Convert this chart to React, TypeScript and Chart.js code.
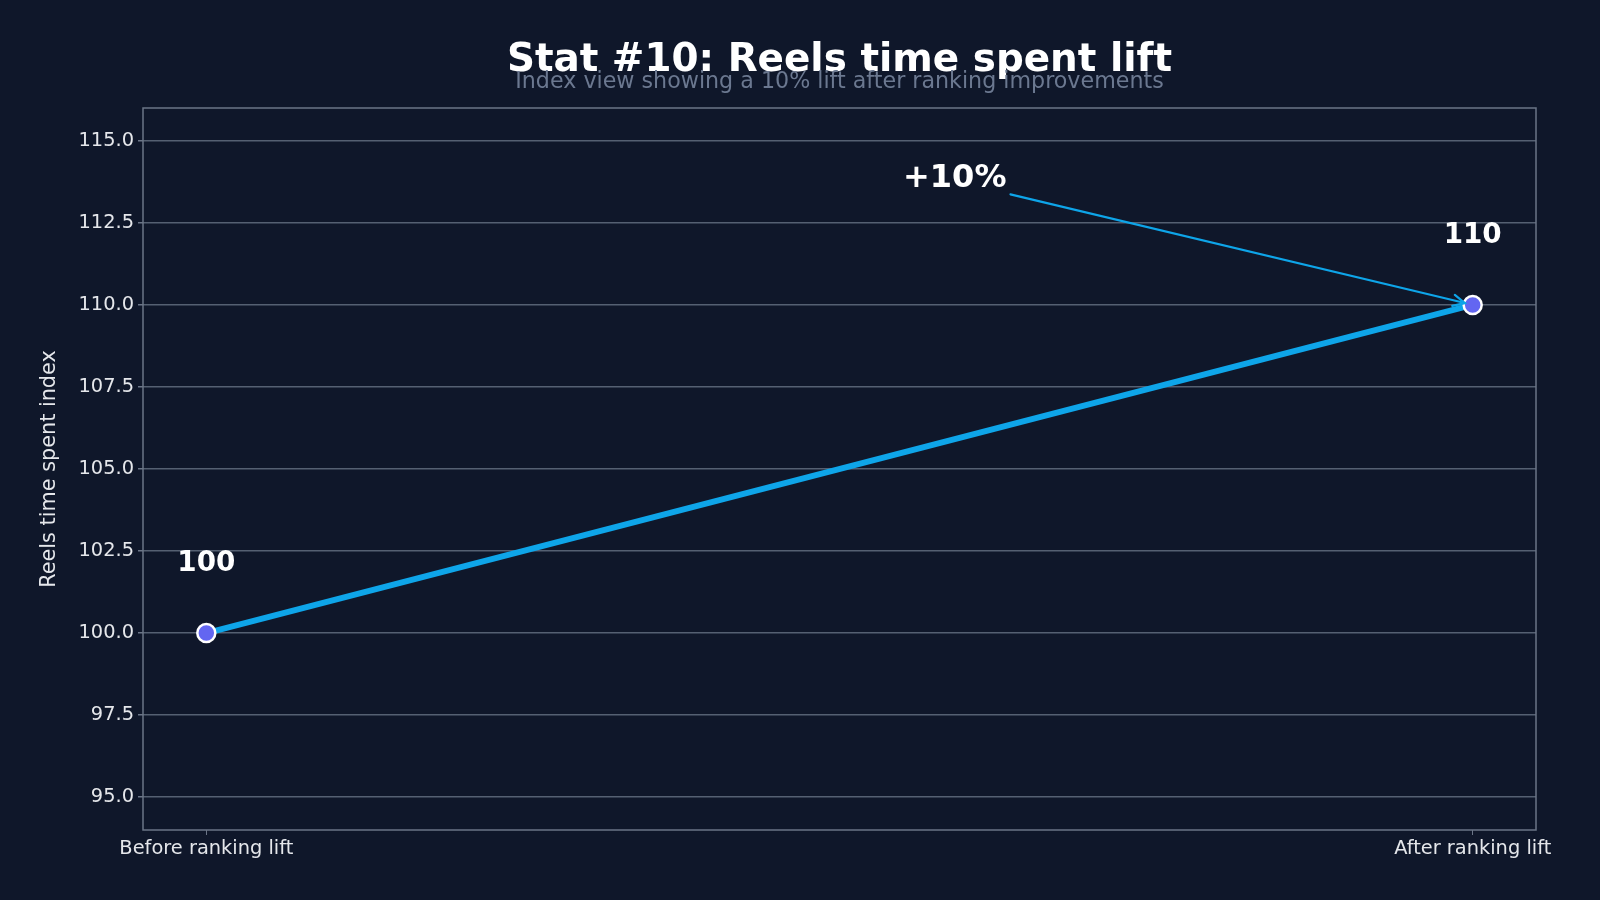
import React, { useEffect, useRef } from "react";
import { Chart, registerables } from "chart.js";

Chart.register(...registerables);

// ---- data ----
const CATEGORIES = ["Before ranking lift", "After ranking lift"];
const X_POSITIONS = [0, 1];
const INDEX_VALUES = [100, 110];
const Y_TICKS = [95, 97.5, 100, 102.5, 105, 107.5, 110, 112.5, 115];
const VALUE_LABELS = ["100", "110"];
const VALUE_LABEL_Y = [102.1, 112.1];
const ANNOTATION_TEXT = "+10%";
const ANNOTATION_TEXT_POS = [0.591, 113.86];
const ARROW_START = [0.635, 113.37];
const ARROW_END = [1, 110];
const TITLE = "Stat #10: Reels time spent lift";
const SUBTITLE = "Index view showing a 10% lift after ranking improvements";
const Y_TITLE = "Reels time spent index";

// ---- styles ----
const BG = "#0f172a";
const LINE_COLOR = "#0ea5e9";
const POINT_COLOR = "#6366f1";
const TEXT_COLOR = "#e5e7eb";
const GRID_COLOR = "#556072";
const FRAME_COLOR = "#6b7587";
const FONT = "'DejaVu Sans', sans-serif";

const overlayPlugin = {
  id: "overlay",
  beforeDraw(chart: any) {
    const { ctx, width, height } = chart;
    ctx.save();
    ctx.fillStyle = BG;
    ctx.fillRect(0, 0, width, height);
    ctx.restore();
  },
  afterDatasetsDraw(chart: any) {
    const { ctx, scales } = chart;
    const xs = scales.x;
    const ys = scales.y;
    ctx.save();
    // value labels
    ctx.fillStyle = "#ffffff";
    ctx.font = `bold 27.8px ${FONT}`;
    ctx.textAlign = "center";
    ctx.textBaseline = "middle";
    X_POSITIONS.forEach((xv, i) => {
      ctx.fillText(VALUE_LABELS[i], xs.getPixelForValue(xv), ys.getPixelForValue(VALUE_LABEL_Y[i]));
    });
    // annotation text
    ctx.font = `bold 32px ${FONT}`;
    ctx.fillText(
      ANNOTATION_TEXT,
      xs.getPixelForValue(ANNOTATION_TEXT_POS[0]),
      ys.getPixelForValue(ANNOTATION_TEXT_POS[1])
    );
    // arrow
    const x1 = xs.getPixelForValue(ARROW_START[0]);
    const y1 = ys.getPixelForValue(ARROW_START[1]);
    const x2r = xs.getPixelForValue(ARROW_END[0]);
    const y2r = ys.getPixelForValue(ARROW_END[1]);
    const ang = Math.atan2(y2r - y1, x2r - x1);
    const shrink = 8;
    const x2 = x2r - Math.cos(ang) * shrink;
    const y2 = y2r - Math.sin(ang) * shrink;
    ctx.strokeStyle = LINE_COLOR;
    ctx.lineWidth = 2.2;
    ctx.lineCap = "round";
    ctx.beginPath();
    ctx.moveTo(x1, y1);
    ctx.lineTo(x2, y2);
    ctx.stroke();
    const head = 13;
    const spread = 0.45;
    ctx.beginPath();
    ctx.moveTo(x2 - Math.cos(ang - spread) * head, y2 - Math.sin(ang - spread) * head);
    ctx.lineTo(x2, y2);
    ctx.lineTo(x2 - Math.cos(ang + spread) * head, y2 - Math.sin(ang + spread) * head);
    ctx.stroke();
    ctx.restore();
  },
  afterDraw(chart: any) {
    const { ctx, chartArea } = chart;
    ctx.save();
    // frame
    ctx.strokeStyle = FRAME_COLOR;
    ctx.lineWidth = 1.5;
    ctx.strokeRect(chartArea.left, chartArea.top, chartArea.right - chartArea.left, chartArea.bottom - chartArea.top);
    // titles
    const cx = (chartArea.left + chartArea.right) / 2;
    ctx.textAlign = "center";
    ctx.textBaseline = "alphabetic";
    ctx.fillStyle = "#ffffff";
    ctx.font = `bold 38.9px ${FONT}`;
    ctx.fillText(TITLE, cx, 71);
    ctx.fillStyle = "#6b7890";
    ctx.font = `22.2px ${FONT}`;
    ctx.fillText(SUBTITLE, cx, 88);
    ctx.restore();
  },
};

export default function App() {
  const canvasRef = useRef<HTMLCanvasElement | null>(null);

  useEffect(() => {
    document.body.style.margin = "0";
    document.body.style.background = BG;
    const canvas = canvasRef.current;
    if (!canvas) return;
    const chart = new Chart(canvas, {
      type: "line",
      data: {
        datasets: [
          {
            label: "Index",
            data: X_POSITIONS.map((x, i) => ({ x, y: INDEX_VALUES[i] })),
            borderColor: LINE_COLOR,
            borderWidth: 6,
            pointBackgroundColor: POINT_COLOR,
            pointBorderColor: "#ffffff",
            pointBorderWidth: 2.5,
            pointRadius: 9,
            pointHoverRadius: 9,
            clip: false as any,
            tension: 0,
          },
        ],
      },
      options: {
        animation: false,
        responsive: false,
        maintainAspectRatio: false,
        devicePixelRatio: 1,
        layout: { padding: { left: 0, right: 64, top: 108, bottom: 0 } },
        plugins: {
          legend: { display: false },
          tooltip: { enabled: false },
          title: { display: false },
        },
        scales: {
          x: {
            type: "linear",
            min: -0.05,
            max: 1.05,
            afterFit(scale: any) {
              scale.height = 70;
            },
            afterBuildTicks(scale: any) {
              scale.ticks = X_POSITIONS.map((v) => ({ value: v }));
            },
            ticks: {
              color: TEXT_COLOR,
              font: { family: FONT, size: 19.4 },
              padding: 2,
              maxRotation: 0,
              autoSkip: false,
              callback: (v: any) => {
                const i = X_POSITIONS.indexOf(Number(v));
                return i >= 0 ? CATEGORIES[i] : "";
              },
            },
            grid: {
              drawOnChartArea: false,
              drawTicks: true,
              tickLength: 5,
              tickColor: FRAME_COLOR,
            },
            border: { display: false },
          },
          y: {
            type: "linear",
            min: 94,
            max: 116,
            afterFit(scale: any) {
              scale.width = 143;
            },
            afterBuildTicks(scale: any) {
              scale.ticks = Y_TICKS.map((v) => ({ value: v }));
            },
            ticks: {
              color: TEXT_COLOR,
              font: { family: FONT, size: 19.4 },
              padding: 4,
              callback: (v: any) => Number(v).toFixed(1),
            },
            grid: {
              color: GRID_COLOR,
              lineWidth: 1.5,
              drawTicks: true,
              tickLength: 5,
              tickColor: FRAME_COLOR,
            },
            border: { display: false },
            title: {
              display: true,
              text: Y_TITLE,
              color: TEXT_COLOR,
              font: { family: FONT, size: 20.8 },
              padding: { top: 37, bottom: 0 },
            },
          },
        },
      },
      plugins: [overlayPlugin],
    });
    return () => chart.destroy();
  }, []);

  return (
    <div style={{ position: "fixed", left: 0, top: 0, width: 1600, height: 900, background: BG }}>
      <canvas ref={canvasRef} width={1600} height={900} style={{ width: 1600, height: 900, display: "block" }} />
    </div>
  );
}
